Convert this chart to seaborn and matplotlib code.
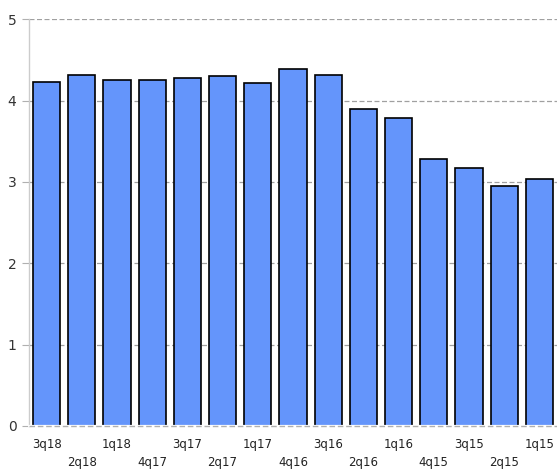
import pandas as pd
import seaborn as sns
import numpy as np
import matplotlib
matplotlib.use('Agg')
import matplotlib.pyplot as plt

quarters = ['3q18', '2q18', '1q18', '4q17', '3q17', '2q17', '1q17', '4q16',
            '3q16', '2q16', '1q16', '4q15', '3q15', '2q15', '1q15']
values = [4.23, 4.32, 4.25, 4.25, 4.28, 4.30, 4.21, 4.39,
          4.32, 3.89, 3.78, 3.28, 3.17, 2.95, 3.03]

df = pd.DataFrame({'quarter': quarters, 'value': values})

sns.set_style('white')
plt.rcParams['font.family'] = ['DejaVu Sans']

fig = plt.figure(figsize=(5.57, 4.69), dpi=100)
ax = fig.add_axes([0.052, 0.092, 0.948, 0.867])

sns.barplot(data=df, x='quarter', y='value', color='#6495fb', saturation=1,
            edgecolor='black', linewidth=1.2, width=0.77, ax=ax, zorder=3)

ax.set_ylim(0, 5)
ax.set_xlim(-0.5, len(quarters) - 0.5)
ax.set_yticks([0, 1, 2, 3, 4, 5])
ax.yaxis.grid(True, linestyle=(0, (4, 2)), color='#a0a0a0', linewidth=0.9, zorder=0)
ax.xaxis.grid(False)
# dashed baseline drawn over the bar bottoms
ax.axhline(0, color='white', linewidth=1.6, zorder=4, clip_on=False)
ax.axhline(0, color='#b0b0b0', linewidth=1.0, linestyle=(0, (4, 2)), zorder=5, clip_on=False)

for s in ['top', 'right', 'bottom']:
    ax.spines[s].set_visible(False)
ax.spines['left'].set_color('#cccccc')
ax.spines['left'].set_linewidth(1)

ax.tick_params(axis='y', which='major', left=True, length=5, color='#b0b0b0',
               labelsize=10, pad=4, labelcolor='#333333')
ax.tick_params(axis='x', bottom=False, labelsize=8.5, pad=5, labelcolor='#222222')

labels = [q if i % 2 == 0 else '\n' + q for i, q in enumerate(quarters)]
ax.set_xticks(range(len(quarters)))
ax.set_xticklabels(labels, linespacing=1.55)
ax.set_xlabel('')
ax.set_ylabel('')

fig.savefig('out.png', dpi=100)
